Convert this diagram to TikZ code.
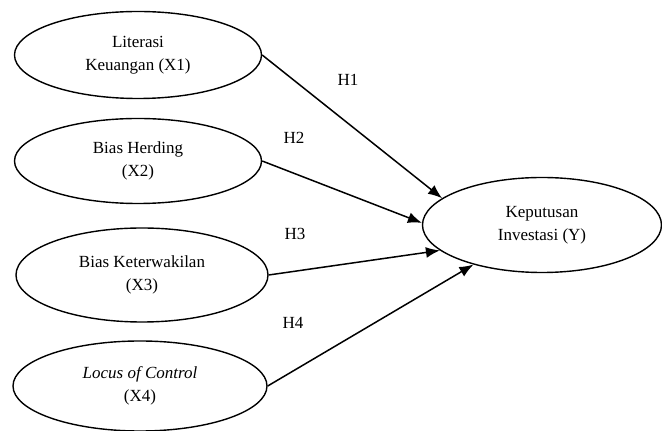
\documentclass[tikz,border=0pt]{standalone}
\usepackage{fontspec}
\setmainfont{Liberation Serif}
\usetikzlibrary{shapes.geometric, arrows.meta}
\begin{document}
\begin{tikzpicture}[x=1pt, y=1pt,
    construct/.style={ellipse, draw, line width=1.4pt, inner sep=0pt, align=center,
        font=\fontsize{17}{23}\selectfont},
    path/.style={line width=1.5pt, -{Latex[length=14pt, width=11pt]}},
    hyp/.style={font=\fontsize{17}{19}\selectfont}]
        \useasboundingbox (0,0) rectangle (662,431);

        % Independent variables
        \node[construct, minimum width=247, minimum height=87] (x1) at (138,376) {Literasi\\Keuangan (X1)};
        \node[construct, minimum width=247, minimum height=85] (x2) at (138,270) {Bias Herding\\(X2)};
        \node[construct, minimum width=252, minimum height=94] (x3) at (142,156) {Bias Keterwakilan\\(X3)};
        \node[construct, minimum width=254, minimum height=90] (x4) at (140,45) {\textit{Locus of Control}\\(X4)};

        % Dependent variable
        \node[construct, minimum width=239, minimum height=95] (y) at (542,206) {Keputusan\\Investasi (Y)};

        % Hypotheses
        \draw[path] (x1.east) -- (y.165);
        \draw[path] (x2.east) -- (y.179);
        \draw[path] (x3.east) -- (y.194);
        \draw[path] (x4.east) -- (y.210);

        \node[hyp] (h1) at (348,351) {H1};
        \node[hyp] (h2) at (294,293) {H2};
        \node[hyp] (h3) at (295,197) {H3};
        \node[hyp] (h4) at (293,108) {H4};
    \end{tikzpicture}
\end{document}
